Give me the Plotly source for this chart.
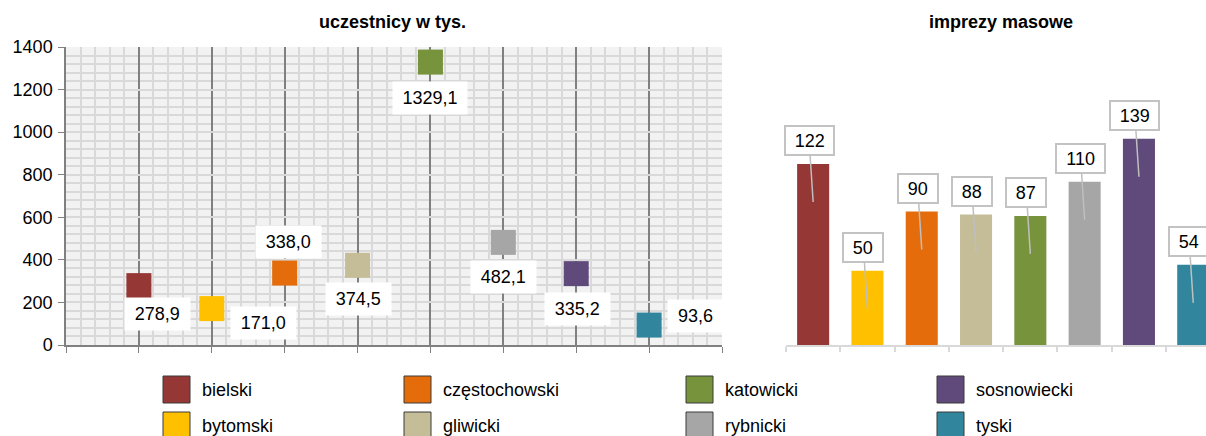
import plotly.graph_objects as go

# ---- data ----
regions = ["bielski", "bytomski", "częstochowski", "gliwicki",
           "katowicki", "rybnicki", "sosnowiecki", "tyski"]
participants = [278.9, 171.0, 338.0, 374.5, 1329.1, 482.1, 335.2, 93.6]   # uczestnicy w tys.
events = [122, 50, 90, 88, 87, 110, 139, 54]                            # imprezy masowe
colors = ["#953735", "#FFC000", "#E46C0A", "#C4BD97",
          "#77933C", "#A6A6A6", "#604A7B", "#31859C"]
title_left = "uczestnicy w tys."
title_right = "imprezy masowe"
y_ticks = [0, 200, 400, 600, 800, 1000, 1200, 1400]

# ---- styling (pixel layout) ----
W, H = 1206, 436
FONT = "Liberation Sans, Arial, sans-serif"
def px_x(p): return p / W
def px_y(p): return 1 - p / H

# label offsets for left chart (dx right, dy down) in px
label_off = [(18.5, 28.5), (51.5, 14), (3.5, -31), (1, 34),
             (0, 36), (0.5, 34.5), (1.5, 35.5), (46.5, -9)]

fig = go.Figure()

xpos = [i + 1 for i in range(len(regions))]
fig.add_trace(go.Scatter(
    x=xpos, y=participants, mode="markers",
    marker=dict(symbol="square", size=25, color=colors, line=dict(width=0)),
    xaxis="x", yaxis="y", showlegend=False, hoverinfo="skip", cliponaxis=False))

fig.add_trace(go.Bar(
    x=regions, y=events, marker=dict(color=colors, line=dict(width=0)),
    width=0.59, xaxis="x2", yaxis="y2", showlegend=False, hoverinfo="skip"))

annotations = []
for i, (v, (dx, dy)) in enumerate(zip(participants, label_off)):
    txt = f"{v:.1f}".replace(".", ",")
    annotations.append(dict(
        x=xpos[i], y=v, xref="x", yref="y", text=txt, showarrow=False,
        xshift=dx, yshift=-dy, bgcolor="white", width=9.4 * (len(txt) - 1) + 25,
        height=30, font=dict(size=18, color="black", family=FONT)))

for i, v in enumerate(events):
    txt = str(v)
    annotations.append(dict(
        x=regions[i], y=v, xref="x2", yref="y2", text=txt, showarrow=True,
        arrowhead=0, arrowwidth=1.5, arrowcolor="#bfbfbf", ax=-4, ay=-61,
        yshift=-38, bgcolor="white", bordercolor="#c3c3c3", borderwidth=2,
        width=9.8 * len(txt) + 16, height=25,
        font=dict(size=18, color="black", family=FONT)))

annotations.append(dict(x=px_x(392.5), y=px_y(22), xref="paper", yref="paper",
                        xanchor="center", yanchor="middle",
                        text=f"<b>{title_left}</b>", showarrow=False,
                        font=dict(size=18, color="black", family=FONT)))
annotations.append(dict(x=px_x(1000.5), y=px_y(22), xref="paper", yref="paper",
                        xanchor="center", yanchor="middle",
                        text=f"<b>{title_right}</b>", showarrow=False,
                        font=dict(size=18, color="black", family=FONT)))

# manual legend (4 columns x 2 rows)
col_x = [163, 404, 686, 937]
row_y = [376, 412]
sw = 27
shapes = [dict(type="rect", xref="x domain", yref="y domain", x0=0, x1=1, y0=0, y1=1,
               fillcolor="#f2f2f2", line=dict(width=0), layer="below")]
for i, name in enumerate(regions):
    c, r = i // 2, i % 2
    x0, y0 = col_x[c], row_y[r]
    shapes.append(dict(type="rect", xref="paper", yref="paper",
                       x0=px_x(x0), x1=px_x(x0 + sw), y0=px_y(y0 + sw), y1=px_y(y0),
                       fillcolor=colors[i], line=dict(color="#3a3a3a", width=1)))
    annotations.append(dict(x=px_x(x0 + sw + 10), y=px_y(y0 + sw / 2), xref="paper",
                            yref="paper", text=name, showarrow=False, xanchor="left",
                            yanchor="middle",
                            font=dict(size=18, color="black", family=FONT)))

fig.update_layout(
    width=W, height=H, margin=dict(l=0, r=0, t=0, b=0, autoexpand=False),
    paper_bgcolor="white", plot_bgcolor="white",
    font=dict(family=FONT, size=17, color="black"),
    xaxis=dict(domain=[px_x(66), px_x(722)], range=[0, 9], tick0=0, dtick=1,
               showticklabels=False, ticks="outside", ticklen=6, tickcolor="#808080",
               showgrid=True, gridcolor="#808080", gridwidth=1.5,
               minor=dict(dtick=0.2, showgrid=True, gridcolor="#d9d9d9", gridwidth=2),
               showline=True, linecolor="#808080", linewidth=1.5, zeroline=False,
               automargin=False),
    yaxis=dict(domain=[px_y(345), px_y(47)], range=[0, 1400], tickvals=y_ticks,
               ticks="outside", ticklen=6, tickcolor="#808080", ticklabelstandoff=2,
               showgrid=True, gridcolor="#d9d9d9", gridwidth=2,
               minor=dict(dtick=40, showgrid=True, gridcolor="#d9d9d9", gridwidth=2),
               showline=True, linecolor="#808080", linewidth=1.5, zeroline=False,
               tickfont=dict(size=18, color="black"), automargin=False),
    xaxis2=dict(domain=[px_x(786), 1], range=[-0.5, 7.235], type="category",
                categoryorder="array", categoryarray=regions, anchor="y2",
                showticklabels=False, ticks="outside", ticklen=5, tickcolor="#d9d9d9",
                tickwidth=2, tickson="boundaries", showgrid=False,
                showline=True, linecolor="#d9d9d9", linewidth=2, zeroline=False,
                automargin=False),
    yaxis2=dict(domain=[px_y(345), px_y(47)], range=[0, 200.8], anchor="x2",
                visible=False, automargin=False),
    annotations=annotations, shapes=shapes, bargap=0.41,
)

fig.write_html("out.html", config={"displayModeBar": False},
               post_script="document.body.style.margin='0px';"
                           "document.body.style.overflow='hidden';")
